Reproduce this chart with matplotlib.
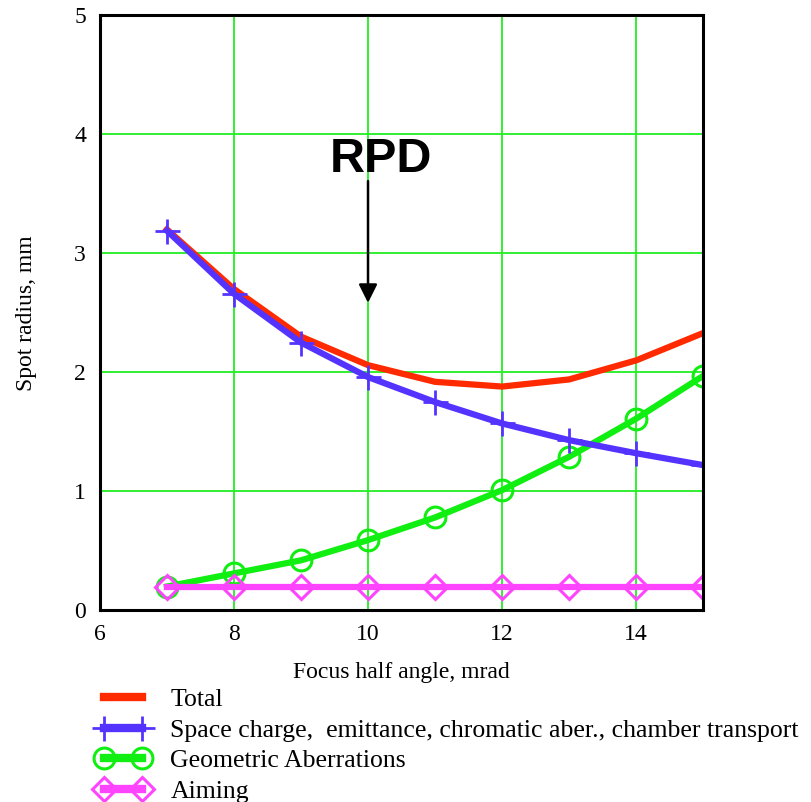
import matplotlib.pyplot as plt

plt.rcParams['font.family'] = ['Liberation Serif', 'DejaVu Serif']

# data
angle = [7, 8, 9, 10, 11, 12, 13, 14, 15]
total = [3.20, 2.70, 2.30, 2.06, 1.92, 1.88, 1.94, 2.10, 2.33]
space_charge = [3.19, 2.66, 2.25, 1.96, 1.75, 1.57, 1.43, 1.32, 1.22]
geometric = [0.20, 0.31, 0.42, 0.59, 0.78, 1.01, 1.29, 1.61, 1.97]
aiming = [0.20, 0.20, 0.20, 0.20, 0.20, 0.20, 0.20, 0.20, 0.20]

labels = ["Total",
          "Space charge,  emittance, chromatic aber., chamber transport",
          "Geometric Aberrations",
          "Aiming"]

fig = plt.figure(figsize=(8.12, 8.02), dpi=100)
ax = fig.add_axes([0.123, 0.239, 0.743, 0.742])

ax.plot(angle, total, color='#ff2a00', lw=4.5, label=labels[0], zorder=3)
ax.plot(angle, space_charge, color='#5533ff', lw=4.5, marker='+', ms=18, mew=2,
        label=labels[1], zorder=4)
ax.plot(angle, geometric, color='#11ee11', lw=4.5, marker='o', ms=15, mew=2.2,
        mfc='none', label=labels[2], zorder=3)
ax.plot(angle, aiming, color='#ff44ff', lw=4.5, marker='D', ms=12, mew=2.2,
        mfc='none', label=labels[3], zorder=5)

ax.set_xlim(6, 15)
ax.set_ylim(0, 5)
ax.set_xticks([6, 8, 10, 12, 14])
ax.set_yticks([0, 1, 2, 3, 4, 5])
ax.grid(True, color='#22ee22', lw=1.3)
ax.tick_params(length=0, labelsize=17, pad=10)
for s in ax.spines.values():
    s.set_linewidth(2.2)
    s.set_zorder(6)

ax.set_xlabel("Focus half angle, mrad", fontsize=17, labelpad=12)
ax.set_ylabel("Spot radius, mm", fontsize=17, labelpad=27)

ax.annotate("", xy=(10, 2.56), xytext=(10, 3.63),
            arrowprops=dict(arrowstyle='-|>', color='black', lw=1.8,
                            mutation_scale=28), zorder=7)
ax.text(10.2, 3.79, "RPD", fontsize=35, fontweight='bold',
        family=['Liberation Sans', 'DejaVu Sans'], ha='center', va='center')

leg = fig.legend(loc='upper left', bbox_to_anchor=(0.118, 0.142), frameon=False,
                 fontsize=18.5, handlelength=2.1, labelspacing=0.3,
                 borderaxespad=0, handletextpad=0.8, borderpad=0, numpoints=2)
for h in leg.get_lines():
    h.set_linewidth(6)

fig.savefig("out.png", dpi=100)
